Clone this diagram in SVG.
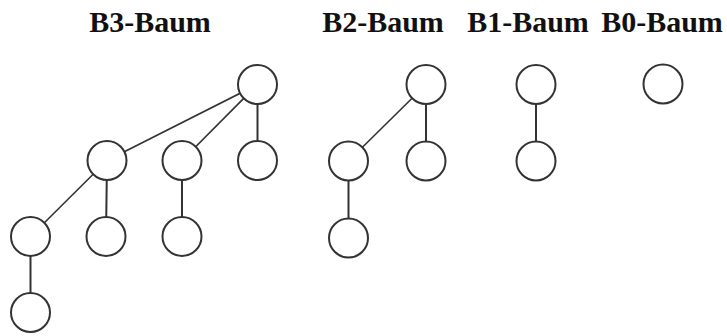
<svg xmlns="http://www.w3.org/2000/svg" width="727" height="336" viewBox="0 0 727 336">
<style>
.t{font-family:'Liberation Serif','DejaVu Serif',serif;font-weight:700;font-size:30px;fill:#111;text-anchor:middle}
.n{fill:#fff;stroke:#333;stroke-width:2}
.e{stroke:#333;stroke-width:1.6;fill:none}
</style>
<rect width="727" height="336" fill="#fff"/>
<text class="t" x="150" y="32">B3-Baum</text>
<text class="t" x="383" y="32">B2-Baum</text>
<text class="t" x="528" y="32">B1-Baum</text>
<text class="t" x="662" y="32">B0-Baum</text>
<g id="connectors">
<line class="e" x1="257.5" y1="84.5" x2="107" y2="160.5"/>
<line class="e" x1="257.5" y1="84.5" x2="182" y2="160.5"/>
<line class="e" x1="257.5" y1="84.5" x2="257.5" y2="160.5" style="stroke-width:2"/>
<line class="e" x1="107" y1="160.5" x2="30.5" y2="236.5"/>
<line class="e" x1="107" y1="160.5" x2="106" y2="236.5" style="stroke-width:2"/>
<line class="e" x1="182" y1="160.5" x2="182" y2="236.5" style="stroke-width:2"/>
<line class="e" x1="30.5" y1="236.5" x2="30.5" y2="312.5" style="stroke-width:2"/>
<line class="e" x1="426" y1="84.5" x2="348.5" y2="161"/>
<line class="e" x1="426" y1="84.5" x2="426" y2="161" style="stroke-width:2"/>
<line class="e" x1="348.5" y1="161" x2="348.5" y2="238" style="stroke-width:2"/>
<line class="e" x1="536" y1="84.5" x2="536" y2="161" style="stroke-width:2"/>
</g>
<g id="b3-root"><circle class="n" cx="257.5" cy="84.5" r="19.5"/></g>
<g id="b3-a"><circle class="n" cx="107" cy="160.5" r="19.5"/></g>
<g id="b3-b"><circle class="n" cx="182" cy="160.5" r="19.5"/></g>
<g id="b3-c"><circle class="n" cx="257.5" cy="160.5" r="19.5"/></g>
<g id="b3-aa"><circle class="n" cx="30.5" cy="236.5" r="19.5"/></g>
<g id="b3-ab"><circle class="n" cx="106" cy="236.5" r="19.5"/></g>
<g id="b3-ba"><circle class="n" cx="182" cy="236.5" r="19.5"/></g>
<g id="b3-aaa"><circle class="n" cx="30.5" cy="312.5" r="19.5"/></g>
<g id="b2-root"><circle class="n" cx="426" cy="84.5" r="19.5"/></g>
<g id="b2-a"><circle class="n" cx="348.5" cy="161" r="19.5"/></g>
<g id="b2-b"><circle class="n" cx="426" cy="161" r="19.5"/></g>
<g id="b2-aa"><circle class="n" cx="348.5" cy="238" r="19.5"/></g>
<g id="b1-root"><circle class="n" cx="536" cy="84.5" r="19.5"/></g>
<g id="b1-a"><circle class="n" cx="536" cy="161" r="19.5"/></g>
<g id="b0-root"><circle class="n" cx="663" cy="84" r="19.5"/></g>
</svg>
